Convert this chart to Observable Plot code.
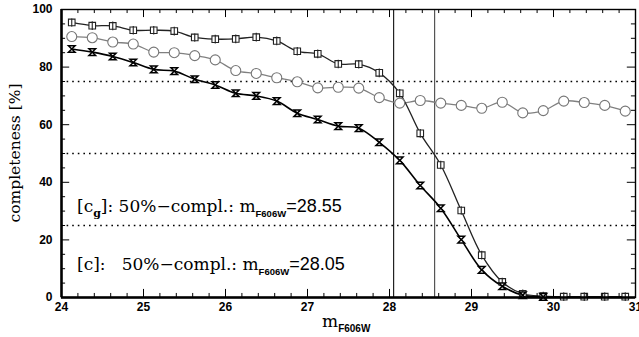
<!DOCTYPE html>
<html><head><meta charset="utf-8">
<script src="https://cdn.jsdelivr.net/npm/d3@7"></script>
<script src="https://cdn.jsdelivr.net/npm/@observablehq/plot@0.6"></script>
<style>body{margin:0;background:#fff} svg{display:block;overflow:hidden}</style>
</head><body><div id="chart"></div>
<script>
// magnitude bin centres
const mags = [24.125,24.375,24.625,24.875,25.125,25.375,25.625,25.875,26.125,26.375,26.625,26.875,27.125,27.375,27.625,27.875,28.125,28.375,28.625,28.875,29.125,29.375,29.625,29.875,30.125,30.375,30.625,30.875];
// completeness [c_g] (squares)
const compCg = [95.5,94.4,94.3,92.8,92.8,92.5,90.3,89.7,89.8,90.4,89.1,85.5,84.6,81.1,81.0,78.0,70.9,57.0,46.0,30.2,14.7,5.4,1.3,0.5,0.3,0.3,0.3,0.3];
// ratio curve (open circles)
const compRatio = [90.6,90.2,88.7,88.0,85.2,85.0,84.0,82.5,78.8,77.8,76.3,74.9,72.8,73.0,72.7,69.4,67.5,68.4,67.5,66.7,65.7,67.8,64.1,64.9,68.2,67.7,66.7,64.7];
// completeness [c] (hourglasses)
const compC = [86.3,85.2,83.7,81.6,79.2,78.6,75.8,73.8,70.9,70.0,68.2,64.0,61.8,59.5,58.8,53.9,47.6,38.9,31.0,20.1,9.6,3.9,0.8,0.2,null,null,null,null];
const limits = [28.05, 28.55];
const levels = [25, 50, 75];
const xMajor = [24,25,26,27,28,29,30,31];
const yMajor = [0,20,40,60,80,100];
const xMinor = d3.range(24, 31.001, 0.2).filter(v => Math.abs(v - Math.round(v)) > 1e-6);
const yMinor = d3.range(0, 100.001, 5).filter(v => v % 20 !== 0);

const rows = mags.map((m, i) => ({m, cg: compCg[i], r: compRatio[i], c: compC[i]}));
const rowsC = rows.filter(d => d.c != null);

const squareBar = {draw(ctx, size) {const s = Math.sqrt(size / Math.PI); ctx.rect(-s, -s, 2*s, 2*s); ctx.moveTo(0, -s - 1); ctx.lineTo(0, s + 1);}};
const hourglass = {draw(ctx, size) {const s = Math.sqrt(size / Math.PI); ctx.moveTo(-s, -s); ctx.lineTo(s, -s); ctx.lineTo(-s, s); ctx.lineTo(s, s); ctx.closePath();}};

const sans = "'Liberation Sans', Arial, Helvetica, sans-serif";
const serif = "'DejaVu Serif', 'Liberation Serif', serif";

const svg = Plot.plot({
  width: 639, height: 337,
  marginLeft: 61, marginRight: 4, marginTop: 9, marginBottom: 40,
  x: {domain: [24, 31]},
  y: {domain: [0, 100]},
  style: {background: "#fff"},
  marks: [
    Plot.ruleY(levels, {stroke: "#000", strokeDasharray: "1.6,4", strokeWidth: 1.4}),
    Plot.ruleX([limits[0]], {stroke: "#222", strokeWidth: 1.2}),
    Plot.ruleX([limits[1]], {stroke: "#555", strokeWidth: 1.2}),
    Plot.line(rows, {x: "m", y: "r", curve: "catmull-rom", stroke: "#808080", strokeWidth: 1.3}),
    Plot.line(rows, {x: "m", y: "cg", curve: "catmull-rom", stroke: "#222", strokeWidth: 1.3}),
    Plot.line(rowsC, {x: "m", y: "c", curve: "catmull-rom", stroke: "#000", strokeWidth: 1.6}),
    Plot.dot(rows, {x: "m", y: "r", r: 5, stroke: "#777", fill: "#fff", strokeWidth: 1.1}),
    Plot.dot(rows, {x: "m", y: "cg", r: 3.3, symbol: squareBar, stroke: "#222", fill: "#fff", strokeWidth: 1.1}),
    Plot.dot(rowsC, {x: "m", y: "c", r: 3.3, symbol: hourglass, stroke: "#000", fill: "#fff", strokeWidth: 1.5}),
    // ticks (inward)
    Plot.ruleX(xMajor, {y1: 0, y2: 2.8, stroke: "#000", strokeWidth: 1}),
    Plot.ruleX(xMajor, {y1: 100, y2: 97.2, stroke: "#000", strokeWidth: 1}),
    Plot.ruleX(xMinor, {y1: 0, y2: 1.4, stroke: "#000", strokeWidth: 1}),
    Plot.ruleX(xMinor, {y1: 100, y2: 98.6, stroke: "#000", strokeWidth: 1}),
    Plot.ruleY(yMajor, {x1: 24, x2: 24.1, stroke: "#000", strokeWidth: 1}),
    Plot.ruleY(yMajor, {x1: 31, x2: 30.9, stroke: "#000", strokeWidth: 1}),
    Plot.ruleY(yMinor, {x1: 24, x2: 24.05, stroke: "#000", strokeWidth: 1}),
    Plot.ruleY(yMinor, {x1: 31, x2: 30.95, stroke: "#000", strokeWidth: 1}),
    Plot.frame({stroke: "#000", strokeWidth: 1.4}),
    Plot.ruleY([0], {stroke: "#000", strokeWidth: 2.5}),
    Plot.ruleX([24], {stroke: "#000", strokeWidth: 2.5}),
    Plot.axisX({ticks: xMajor, tickSize: 0, tickPadding: 5, fontSize: 12, fontWeight: "bold", fontFamily: sans, label: null, tickFormat: d => String(d)}),
    Plot.axisY({ticks: yMajor, tickSize: 0, tickPadding: 9, fontSize: 12, fontWeight: "bold", fontFamily: sans, label: null, tickFormat: d => String(d)})
  ]
});

const g = d3.select(svg);
function addLine(x, y, prefix, sub, mid, value) {
  const t = g.append("text").attr("x", x).attr("y", y).attr("fill", "#000").attr("text-anchor", "start").attr("xml:space", "preserve").style("white-space", "pre");
  t.append("tspan").attr("font-family", serif).attr("font-size", 17).text(prefix);
  if (sub) t.append("tspan").attr("font-family", serif).attr("font-size", 11).attr("font-weight", "bold").attr("dy", 5).text(sub);
  t.append("tspan").attr("font-family", serif).attr("font-size", 17).attr("dy", sub ? -5 : 0).text(mid);
  t.append("tspan").attr("font-family", sans).attr("font-size", 9.5).attr("font-weight", "bold").attr("dy", 5).text("F606W");
  t.append("tspan").attr("font-family", sans).attr("font-size", 18).attr("dy", -5).text(value);
}
addLine(77, 212, "[c", "g", "]: 50%\u2212compl.: m", "=28.55");
addLine(77, 270, "[c", null, "]:   50%\u2212compl.: m", "=28.05");

// axis titles
const xt = g.append("text").attr("x", 322).attr("y", 327).attr("fill", "#000").attr("text-anchor", "start");
xt.append("tspan").attr("font-family", serif).attr("font-size", 17).text("m");
xt.append("tspan").attr("font-family", sans).attr("font-size", 10).attr("font-weight", "bold").attr("dy", 5).text("F606W");

g.append("text").attr("transform", "translate(20,153) rotate(-90)").attr("text-anchor", "middle")
  .attr("font-family", serif).attr("font-size", 15.5).attr("fill", "#000").text("completeness [%]");

document.getElementById("chart").appendChild(svg);
</script>
</body></html>
